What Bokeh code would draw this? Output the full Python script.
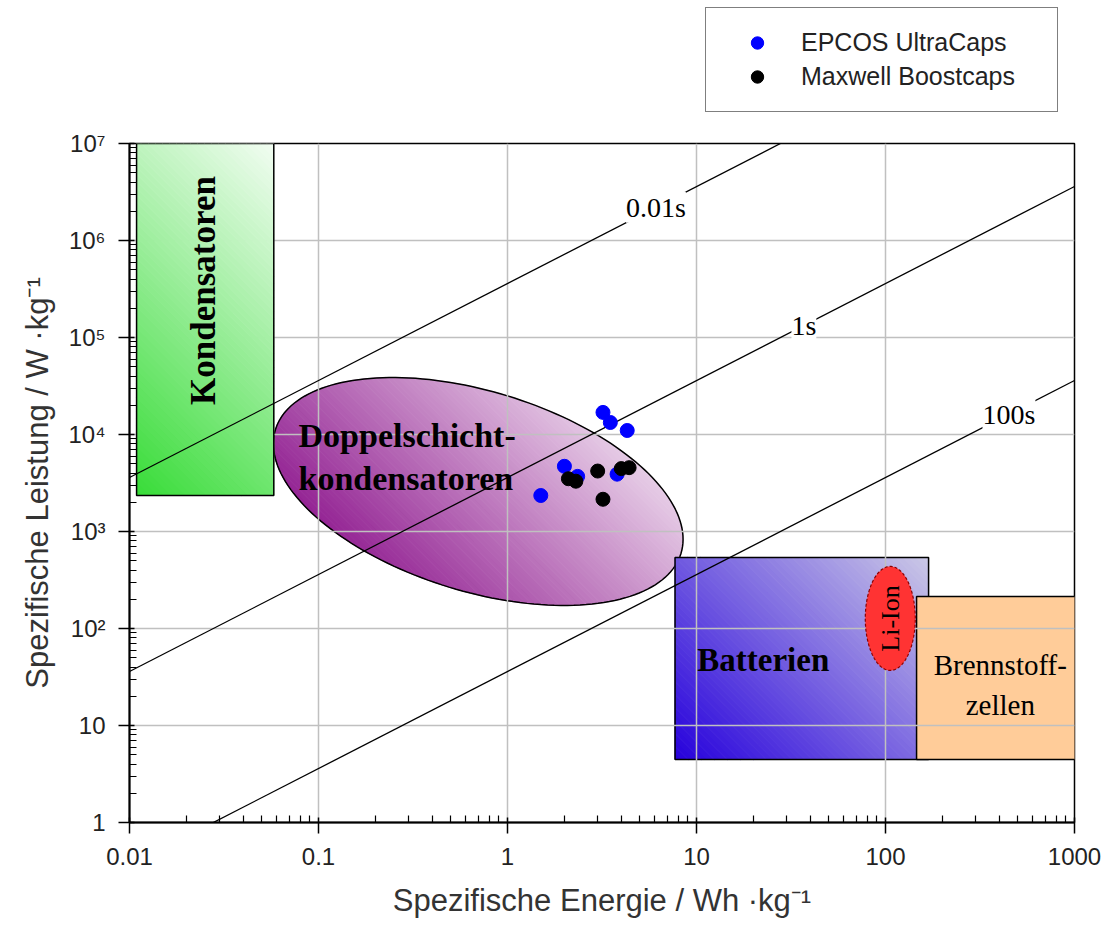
import math
import numpy as np
from bokeh.plotting import figure
from bokeh.layouts import column
from bokeh.models import Label, Legend, LegendItem, FixedTicker
from bokeh.embed import file_html
from bokeh.resources import INLINE

# ---------------- data ----------------
# measured devices (specific energy Wh/kg, specific power W/kg)
epcos_energy = [3.2, 3.5, 4.3, 2.0, 2.35, 1.5, 3.8]
epcos_power = [16900, 13300, 11000, 4700, 3700, 2350, 3900]
maxwell_energy = [2.1, 2.3, 3.0, 4.0, 4.4, 3.2]
maxwell_power = [3500, 3300, 4200, 4450, 4550, 2150]

# lines of constant discharge time (seconds)
time_constants = [0.01, 1, 100]
time_labels = ["0.01s", "1s", "100s"]
time_label_energy = [6.1, 37, 450]

# axis ticks
x_ticks = [0.01, 0.1, 1, 10, 100, 1000]
x_tick_labels = ["0.01", "0.1", "1", "10", "100", "1000"]
y_ticks = [1, 10, 100, 1e3, 1e4, 1e5, 1e6, 1e7]
y_tick_labels = ["1", "10", "10²", "10³", "10⁴", "10⁵", "10⁶", "10⁷"]

# technology regions: (energy range, power range)
kondensatoren_energy = (0.0109, 0.058)
kondensatoren_power = (2350, 1e7)
batterien_energy = (7.7, 169)
batterien_power = (4.46, 540)
brennstoff_energy = (146, 1076)
brennstoff_power = (4.46, 214)
doppelschicht_center = (0.70, 2585)
liion_center = (106, 127)

series_names = ["EPCOS UltraCaps", "Maxwell Boostcaps"]
series_colors = ["#0000ff", "black"]

# ---------------- layout ----------------
W, H = 1102, 932
LEG_H = 128                       # strip above the chart holding the legend
BL, BR, BT, BB = 129, 28, 15, 110
FW, FH = W - BL - BR, H - LEG_H - BT - BB
KX = FW / math.log10(x_ticks[-1] / x_ticks[0])   # px per decade
KY = FH / math.log10(y_ticks[-1] / y_ticks[0])

sans = "Liberation Sans"
serif = "Liberation Serif"

# ---------------- legend strip ----------------
lg = figure(width=W, height=LEG_H, x_range=(0, FW), y_range=(0, LEG_H),
            x_axis_type=None, y_axis_type=None, output_backend="svg",
            toolbar_location=None, min_border_left=BL, min_border_right=BR,
            min_border_top=0, min_border_bottom=0)
lg.outline_line_color = None
lg.xgrid.visible = False
lg.ygrid.visible = False
lg.background_fill_color = "white"
lg.border_fill_color = "white"
# the series themselves lie outside this strip's ranges; only their legend glyphs show
leg_renderers = [lg.scatter(epcos_energy, epcos_power, size=14, color=series_colors[0]),
                 lg.scatter(maxwell_energy, maxwell_power, size=14, color=series_colors[1])]
legend = Legend(items=[LegendItem(label=n, renderers=[r]) for n, r in zip(series_names, leg_renderers)],
                location=(705 - BL, LEG_H - 112), orientation="vertical", margin=0,
                padding=19, spacing=3, glyph_width=64, glyph_height=31,
                label_height=31, label_width=237, label_standoff=12,
                label_text_font=sans, label_text_font_size="25px",
                label_text_color="#222222",
                border_line_color="black", border_line_width=1.5,
                background_fill_color="white", background_fill_alpha=1.0)
lg.add_layout(legend, "center")

# ---------------- chart ----------------
p = figure(width=W, height=H - LEG_H, x_axis_type="log", y_axis_type="log",
           x_range=(x_ticks[0], x_ticks[-1]), y_range=(y_ticks[0], y_ticks[-1]),
           output_backend="svg", toolbar_location=None,
           min_border_left=BL, min_border_right=BR,
           min_border_top=BT, min_border_bottom=BB)
p.xgrid.visible = False
p.ygrid.visible = False
p.background_fill_color = "white"
p.border_fill_color = "white"
p.outline_line_color = "black"
p.outline_line_width = 1.5


def to_uv(e, pw):
    return KX * math.log10(e), KY * math.log10(pw)


def to_data(u, v):
    return 10 ** (u / KX), 10 ** (v / KY)


def clip_half(pts, f):
    out = []
    n = len(pts)
    for i in range(n):
        a, b = pts[i], pts[(i + 1) % n]
        fa, fb = f(a), f(b)
        if fa >= 0:
            out.append(a)
        if (fa >= 0) != (fb >= 0):
            t = fa / (fa - fb)
            out.append((a[0] + t * (b[0] - a[0]), a[1] + t * (b[1] - a[1])))
    return out


def hex_to_rgb(h):
    h = h.lstrip("#")
    return tuple(int(h[i:i + 2], 16) for i in (0, 2, 4))


def mix(c0, c1, t):
    a, b = hex_to_rgb(c0), hex_to_rgb(c1)
    return "#%02x%02x%02x" % tuple(int(round(a[i] + (b[i] - a[i]) * t)) for i in range(3))


def gradient_shape(poly_uv, c0, c1, bands=70, outline="black", lw=1.5, dash="solid"):
    """Fill a polygon (screen-proportional log space) with a diagonal gradient."""
    d = (math.sqrt(0.5), math.sqrt(0.5))
    proj = [q[0] * d[0] + q[1] * d[1] for q in poly_uv]
    lo, hi = min(proj), max(proj)
    xs, ys, cols = [], [], []
    for k in range(bands):
        t0 = lo + (hi - lo) * k / bands
        t1 = lo + (hi - lo) * (k + 1) / bands
        pts = clip_half(poly_uv, lambda q: q[0] * d[0] + q[1] * d[1] - t0)
        if pts:
            pts = clip_half(pts, lambda q: t1 - (q[0] * d[0] + q[1] * d[1]))
        if len(pts) < 3:
            continue
        dd = [to_data(*q) for q in pts]
        xs.append([q[0] for q in dd])
        ys.append([q[1] for q in dd])
        cols.append(mix(c0, c1, (k + 0.5) / bands))
    p.patches(xs, ys, fill_color=cols, line_color=cols, line_width=1)
    dd = [to_data(*q) for q in poly_uv]
    p.patch([q[0] for q in dd], [q[1] for q in dd], fill_color=None,
            line_color=outline, line_width=lw, line_dash=dash)


def rect_uv(er, pr):
    u0, v0 = to_uv(er[0], pr[0])
    u1, v1 = to_uv(er[1], pr[1])
    return [(u0, v0), (u1, v0), (u1, v1), (u0, v1)]


def ellipse_uv(center, a, b, angle_deg, n=180):
    uc, vc = to_uv(*center)
    th = math.radians(angle_deg)
    pts = []
    for i in range(n):
        s = 2 * math.pi * i / n
        x, y = a * math.cos(s), b * math.sin(s)
        pts.append((uc + x * math.cos(th) - y * math.sin(th),
                    vc + x * math.sin(th) + y * math.cos(th)))
    return pts


# regions underneath the grid
gradient_shape(ellipse_uv(doppelschicht_center, 212, 100, -17), "#942494", "#e6cce6")
gradient_shape(rect_uv(batterien_energy, batterien_power), "#2600dc", "#cbc8e6")
bz = rect_uv(brennstoff_energy, brennstoff_power)
bzd = [to_data(*q) for q in bz]
p.patch([q[0] for q in bzd], [q[1] for q in bzd], fill_color="#ffcc99",
        line_color="black", line_width=1.5)

# grid lines
grid_xs, grid_ys = [], []
for xv in x_ticks[1:-1]:
    grid_xs.append([xv, xv])
    grid_ys.append([y_ticks[0], y_ticks[-1]])
for yv in y_ticks[1:-1]:
    grid_xs.append([x_ticks[0], x_ticks[-1]])
    grid_ys.append([yv, yv])
p.multi_line(grid_xs, grid_ys, line_color="#c0c0c0", line_width=1.5)

# regions above the grid
li = ellipse_uv(liion_center, 25, 52, 0)
lid = [to_data(*q) for q in li]
p.patch([q[0] for q in lid], [q[1] for q in lid], fill_color="#ff3333",
        line_color="#8b0000", line_width=1.2, line_dash="3 2")
gradient_shape(rect_uv(kondensatoren_energy, kondensatoren_power), "#38dc38", "#f2fdf2")

# constant-time lines: P = 3600 * E / t
e_line = np.array([x_ticks[0], x_ticks[-1]])
for t in time_constants:
    p.line(e_line, 3600.0 * e_line / t, line_color="black", line_width=1.3)
for t, lab, e in zip(time_constants, time_labels, time_label_energy):
    p.add_layout(Label(x=e, y=3600.0 * e / t, text=lab, text_align="center",
                       text_baseline="middle", text_font=serif,
                       text_font_size="28px", text_color="black",
                       background_fill_color="white"))

# measured devices
p.scatter(epcos_energy, epcos_power, size=14, color=series_colors[0])
p.scatter(maxwell_energy, maxwell_power, size=14, color=series_colors[1])

# region labels
p.add_layout(Label(x=0.0246, y=3.05e5, text="Kondensatoren", angle=math.pi / 2,
                   text_align="center", text_baseline="middle", text_font=serif,
                   text_font_size="35px", text_font_style="bold", text_color="black"))
p.add_layout(Label(x=0.0784, y=9770, text="Doppelschicht-", text_align="left",
                   text_baseline="alphabetic", text_font=serif,
                   text_font_size="34px", text_font_style="bold", text_color="black"))
p.add_layout(Label(x=0.0784, y=3520, text="kondensatoren", text_align="left",
                   text_baseline="alphabetic", text_font=serif,
                   text_font_size="34px", text_font_style="bold", text_color="black"))
p.add_layout(Label(x=10.1, y=46.8, text="Batterien", text_align="left",
                   text_baseline="alphabetic", text_font=serif,
                   text_font_size="33px", text_font_style="bold", text_color="black"))
p.add_layout(Label(x=405, y=41.6, text="Brennstoff-", text_align="center",
                   text_baseline="alphabetic", text_font=serif, text_font_size="29px",
                   text_color="black"))
p.add_layout(Label(x=405, y=16.1, text="zellen", text_align="center",
                   text_baseline="alphabetic", text_font=serif, text_font_size="29px",
                   text_color="black"))
p.add_layout(Label(x=liion_center[0], y=liion_center[1], text="Li-Ion", angle=math.pi / 2,
                   text_align="center", text_baseline="middle", text_font=serif,
                   text_font_size="26px", text_color="black"))

# axes
p.xaxis.ticker = FixedTicker(ticks=x_ticks,
                             minor_ticks=[m * 10.0 ** k for k in range(-2, 3) for m in range(2, 10)])
p.yaxis.ticker = FixedTicker(ticks=y_ticks,
                             minor_ticks=[m * 10.0 ** k for k in range(0, 7) for m in range(2, 10)])
p.xaxis.major_label_overrides = {v: s for v, s in zip(x_ticks, x_tick_labels)}
p.yaxis.major_label_overrides = {v: s for v, s in zip(y_ticks, y_tick_labels)}
p.xaxis.axis_label = "Spezifische Energie / Wh ·kg⁻¹"
p.yaxis.axis_label = "Spezifische Leistung / W ·kg⁻¹"
for ax in (p.xaxis, p.yaxis):
    ax.axis_line_color = "black"
    ax.axis_line_width = 2
    ax.major_tick_line_color = "black"
    ax.major_tick_line_width = 1.5
    ax.minor_tick_line_color = "black"
    ax.minor_tick_line_width = 1.2
    ax.major_tick_in = 5
    ax.major_tick_out = 11
    ax.minor_tick_in = 7
    ax.minor_tick_out = 0
    ax.major_label_text_font = sans
    ax.major_label_text_font_size = "24px"
    ax.major_label_text_color = "#222222"
    ax.axis_label_text_font = sans
    ax.axis_label_text_font_size = "31px"
    ax.axis_label_text_font_style = "normal"
    ax.axis_label_text_color = "#333333"
p.xaxis.major_label_standoff = 14
p.yaxis.major_label_standoff = 13
p.xaxis.axis_label_standoff = 15
p.yaxis.axis_label_standoff = 10

page = column(lg, p, spacing=0)
open("out.html", "w").write(file_html(page, INLINE))
